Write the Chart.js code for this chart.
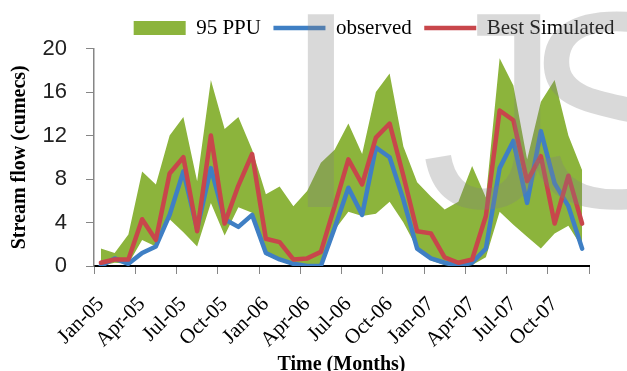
<!DOCTYPE html>
<html>
<head>
<meta charset="utf-8">
<script src="https://cdn.jsdelivr.net/npm/chart.js@4"></script>
<style>
	html, body { margin: 0; padding: 0; background: #fff; }
	#wrap { width: 627px; height: 371px; position: relative; }
</style>
</head>
<body>
<div id="wrap"><canvas id="flow-chart"></canvas></div>
<script>
const monthNames = ['Jan', 'Feb', 'Mar', 'Apr', 'May', 'Jun', 'Jul', 'Aug', 'Sep', 'Oct', 'Nov', 'Dec'];
const years = ['05', '06', '07'];
const months = years.flatMap(y => monthNames.map(m => `${m}-${y}`));

// 95 PPU band (cumecs)
const ppuUpper = [
	1.6, 1.2, 2.9, 8.7, 7.5, 12.0, 13.7, 7.8, 17.1, 12.6, 13.7, 10.7,
	6.6, 7.3, 5.5, 6.9, 9.5, 10.7, 13.1, 10.3, 16.0, 17.7, 11.0, 7.7,
	6.4, 5.2, 5.9, 9.2, 6.3, 19.1, 16.6, 9.8, 15.1, 17.1, 12.0, 8.8
];
const ppuLower = [
	0.0, 0.3, 0.2, 2.4, 1.8, 4.3, 3.1, 1.8, 5.8, 2.8, 5.4, 4.9,
	1.0, 0.5, 0.1, 0.0, 0.0, 3.3, 5.0, 4.6, 4.8, 5.9, 4.0, 1.6,
	0.5, 0.1, 0.0, 0.1, 0.8, 5.0, 3.8, 2.7, 1.6, 3.0, 3.7, 1.7
];
const observed = [
	0.0, 0.7, 0.2, 1.2, 1.8, 4.7, 8.7, 3.4, 9.0, 4.3, 3.6, 4.7,
	1.2, 0.6, 0.2, 0.0, 0.0, 3.5, 7.2, 4.7, 10.9, 10.0, 6.1, 1.6,
	0.7, 0.3, 0.0, 0.3, 1.6, 9.0, 11.5, 5.8, 12.4, 7.6, 5.5, 1.6
];
const bestSimulated = [
	0.3, 0.6, 0.6, 4.3, 2.4, 8.5, 10.0, 3.2, 12.0, 3.9, 7.4, 10.3,
	2.5, 2.2, 0.6, 0.7, 1.3, 5.5, 9.8, 7.5, 11.8, 13.1, 8.3, 3.2,
	3.0, 0.8, 0.3, 0.6, 4.6, 14.3, 13.4, 7.8, 10.1, 3.9, 8.3, 3.9
];

const GREEN = '#8cb43c';
const BLUE = '#3f7fc4';
const RED = '#c8464b';
const AXIS_GRAY = '#868686';

const serif = 'Liberation Serif';

const whiteBackground = {
	id: 'whiteBackground',
	beforeDraw(chart) {
		const { ctx } = chart;
		ctx.save();
		ctx.fillStyle = '#fff';
		ctx.fillRect(0, 0, chart.width, chart.height);
		ctx.restore();
	}
};

// faint "IJS" mark laid over the whole picture
const watermark = {
	id: 'watermark',
	afterDraw(chart) {
		const { ctx } = chart;
		ctx.save();
		ctx.fillStyle = 'rgba(128, 128, 128, 0.3)';
		ctx.font = '280px "Liberation Sans"';
		ctx.textBaseline = 'alphabetic';
		ctx.fillText('I', 282, 207);
		ctx.fillText('J', 421, 207);
		ctx.fillText('S', 522, 207);
		ctx.restore();
	}
};

const chartConfig = {
	type: 'line',
	data: {
		labels: months,
		datasets: [
			{
				label: '95 PPU',
				data: ppuUpper,
				backgroundColor: GREEN,
				borderColor: 'transparent',
				borderWidth: 0,
				pointRadius: 0,
				pointStyle: 'rect',
				fill: '+1',
				order: 3
			},
			{
				label: 'lower',
				data: ppuLower,
				borderColor: 'transparent',
				borderWidth: 0,
				pointRadius: 0,
				fill: false,
				order: 4
			},
			{
				label: 'observed',
				data: observed,
				borderColor: BLUE,
				backgroundColor: BLUE,
				borderWidth: 4.5,
				borderJoinStyle: 'round',
				borderCapStyle: 'round',
				pointRadius: 0,
				pointStyle: 'line',
				tension: 0,
				order: 2
			},
			{
				label: 'Best Simulated',
				data: bestSimulated,
				borderColor: RED,
				backgroundColor: RED,
				borderWidth: 4.5,
				borderJoinStyle: 'round',
				borderCapStyle: 'round',
				pointRadius: 0,
				pointStyle: 'line',
				tension: 0,
				order: 1
			}
		]
	},
	options: {
		responsive: true,
		maintainAspectRatio: false,
		animation: false,
		layout: { padding: { top: 5, left: 0, right: 0, bottom: 0 } },
		scales: {
			x: {
				offset: true,
				grid: {
					offset: true,
					drawOnChartArea: false,
					tickLength: 8,
					tickColor: ctx => (ctx.index === undefined || ctx.index % 3 === 0) ? AXIS_GRAY : 'transparent'
				},
				border: { color: '#000', width: 2 },
				ticks: {
					autoSkip: false,
					minRotation: 45,
					maxRotation: 45,
					padding: 18,
					color: '#000',
					font: { family: serif, size: 21 },
					callback(value, index) {
						return index % 3 === 0 ? this.getLabelForValue(value) : '';
					}
				},
				title: {
					display: true,
					text: 'Time (Months)',
					color: '#000',
					font: { family: serif, size: 20, weight: 'bold', lineHeight: 1 },
					padding: { top: 0, bottom: -4 }
				},
				afterFit(scale) { scale.height = 105; }
			},
			y: {
				min: 0,
				max: 20,
				grid: { drawOnChartArea: false, tickLength: 8, tickColor: AXIS_GRAY },
				border: { color: AXIS_GRAY, width: 1.5 },
				ticks: {
					stepSize: 4,
					padding: 19,
					color: '#222',
					font: { family: 'Liberation Sans', size: 22 }
				},
				title: {
					display: true,
					text: 'Stream flow (cumecs)',
					color: '#000',
					font: { family: serif, size: 20, weight: 'bold', lineHeight: 1.2 },
					padding: { top: 8, bottom: 0 }
				},
				afterFit(scale) { scale.width = 94; }
			},
			pad: {
				position: 'right',
				display: true,
				grid: { display: false },
				border: { display: false },
				ticks: { display: false },
				afterFit(scale) { scale.width = 38; }
			}
		},
		plugins: {
			legend: {
				position: 'top',
				align: 'end',
				labels: {
					usePointStyle: true,
					pointStyleWidth: 52,
					boxHeight: 14,
					padding: 12.5,
					color: '#000',
					font: { family: serif, size: 21 },
					filter: item => item.text !== 'lower',
					sort: (a, b) => a.datasetIndex - b.datasetIndex
				}
			},
			tooltip: { enabled: false }
		}
	},
	plugins: [whiteBackground, watermark]
};

new Chart(document.querySelector('#flow-chart'), chartConfig);
</script>
</body>
</html>
